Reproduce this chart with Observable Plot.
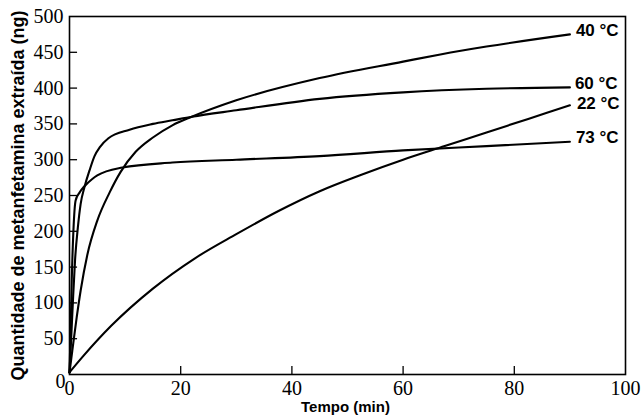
<!DOCTYPE html>
<html>
<head>
<meta charset="utf-8">
<script src="https://cdn.jsdelivr.net/npm/d3@7"></script>
<script src="https://cdn.jsdelivr.net/npm/@observablehq/plot@0.6"></script>
<style>
  html, body { margin: 0; padding: 0; background: #fff; }
  #chart svg { display: block; }
</style>
</head>
<body>
<div id="chart"></div>
<script>
// Series: [time (min), amount (ng)]
const s22 = [[0,3],[2.5,26],[7.5,68],[15,120],[22.5,162],[30,196],[37.5,228],[45,256],[52.5,279],[60,300],[67.5,319],[75,338],[82.5,357],[90,376]];
const s40 = [[0,3],[0.5,33],[1.3,80],[2,117],[3.2,167],[5,215],[7.2,254],[9.2,283],[11.9,311],[15,331],[18.5,348],[22,360],[30,383],[45,414],[60,437],[66.7,447],[75,458],[90,475]];
const s60 = [[0,3],[0.3,50],[0.6,100],[1,160],[1.5,205],[2,238],[2.7,262],[3.6,285],[4.5,305],[5.5,318],[7,330],[10.8,342],[15,350],[18.5,355],[22,360],[30,369],[45,385],[60,394],[75,399],[90,401]];
const s73 = [[0,3],[0.2,60],[0.4,130],[0.7,200],[1.1,243],[1.8,254],[2.7,263],[4.1,273],[5,278],[9.5,289],[18.5,296],[30,300],[45,305],[60,313],[75,319],[90,325]];
const seriesNames = ["40 °C", "60 °C", "22 °C", "73 °C"];
const seriesData = [s40, s60, s22, s73];
const labelDy = [-4, -4, -2, -4];
const labelDx = [6, 5, 7, 6];
const xTicks = [0, 20, 40, 60, 80, 100];
const yTicks = [50, 100, 150, 200, 250, 300, 350, 400, 450, 500];
const innerXTicks = [20, 40, 60, 80];
const innerYTicks = [50, 100, 150, 200, 250, 300, 350, 400, 450];

const rows = [];
seriesNames.forEach((name, i) => seriesData[i].forEach(([t, v]) => rows.push({serie: name, t, v})));
const ends = seriesNames.map((name, i) => {
  const d = seriesData[i][seriesData[i].length - 1];
  return {serie: name, t: d[0], v: d[1], dx: labelDx[i], dy: labelDy[i]};
});

const serif = "'Liberation Serif', 'Times New Roman', serif";
const sans = "'Liberation Sans', Arial, sans-serif";

const chart = Plot.plot({
  width: 641,
  height: 415,
  marginLeft: 69,
  marginRight: 16,
  marginTop: 16,
  marginBottom: 41,
  style: {background: "#fff", color: "#000"},
  x: {domain: [0, 100]},
  y: {domain: [0, 500]},
  marks: [
    Plot.frame({stroke: "#000", strokeWidth: 1.6}),
    Plot.ruleX(innerXTicks, {x: d => d, y1: 0, y2: 11, stroke: "#000", strokeWidth: 1.3}),
    Plot.ruleY(innerYTicks, {y: d => d, x1: 0, x2: 1.45, stroke: "#000", strokeWidth: 1.3}),
    Plot.line(rows, {x: "t", y: "v", z: "serie", curve: "monotone-x", stroke: "#000", strokeWidth: 2.1}),
    ...ends.map(e => Plot.text([e], {x: "t", y: "v", text: "serie", textAnchor: "start", dx: e.dx, dy: e.dy,
      fontFamily: sans, fontWeight: "bold", fontSize: 17, fill: "#000"})),
    Plot.axisX(xTicks, {tickSize: 0, tickPadding: 6, fontFamily: serif, fontSize: 20, label: null, fill: "#000"}),
    Plot.axisY(yTicks, {tickSize: 0, tickPadding: 6, fontFamily: serif, fontSize: 20, label: null, fill: "#000"}),
    Plot.text([0], {x: 0, y: 0, text: d => String(d), textAnchor: "end", dx: -4, dy: 7,
      fontFamily: serif, fontSize: 20, fill: "#000"}),
    Plot.text(["Tempo (min)"], {frameAnchor: "bottom", text: d => d, textAnchor: "middle", lineAnchor: "middle", dy: 33, dx: -2,
      fontFamily: sans, fontWeight: "bold", fontSize: 15, fill: "#000"}),
    Plot.text(["Quantidade de metanfetamina extraída (ng)"], {frameAnchor: "left", text: d => d, rotate: -90,
      textAnchor: "middle", lineAnchor: "middle", dx: -51, dy: 0,
      fontFamily: sans, fontWeight: "bold", fontSize: 18, fill: "#000"})
  ]
});
document.getElementById("chart").appendChild(chart);
</script>
</body>
</html>
